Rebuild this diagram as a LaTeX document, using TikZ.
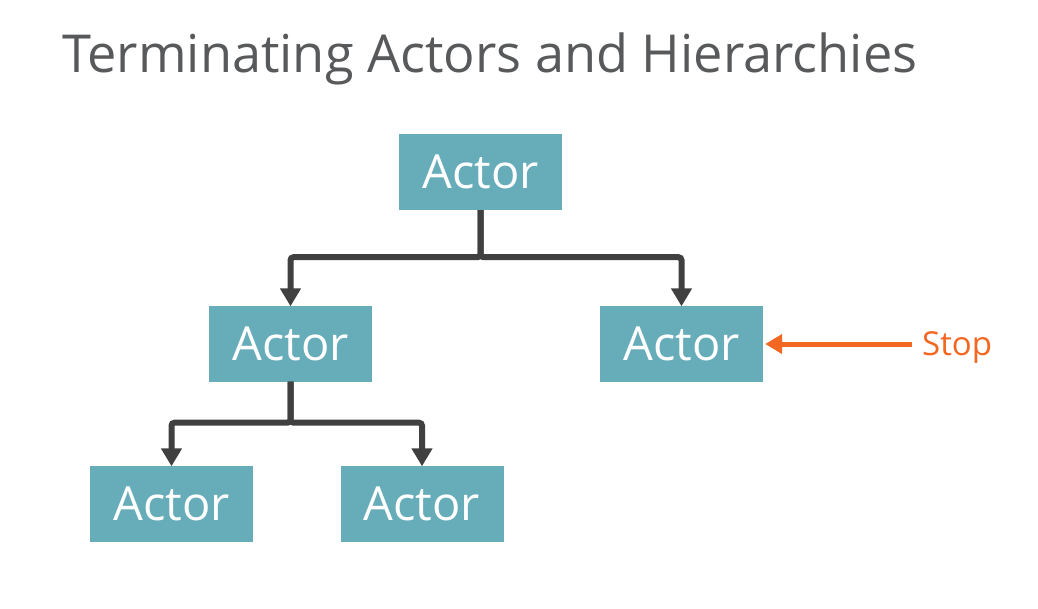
\documentclass[tikz,border=0pt]{standalone}
\usepackage{fontspec}
\setmainfont{Open Sans}
\usetikzlibrary{arrows.meta}
\definecolor{actorfill}{HTML}{67ADB9}
\definecolor{linkgray}{HTML}{404040}
\definecolor{titlegray}{HTML}{58595B}
\definecolor{stoporange}{HTML}{F26722}
\begin{document}
\begin{tikzpicture}[x=1pt,y=-1pt,
  actor/.style={fill=actorfill, minimum width=163pt, minimum height=76pt,
    inner sep=0pt, text=white, font=\fontsize{47}{52}\selectfont},
  link/.style={draw=linkgray, line width=6pt, rounded corners=3pt,
    -{Triangle[length=18pt,width=20pt]}},
  stoplink/.style={draw=stoporange, line width=5pt,
    -{Triangle[length=17pt,width=19pt]}}]
  \useasboundingbox (0,0) rectangle (1038,608);
  % title
  \node[anchor=base west, inner sep=0pt, text=titlegray,
        font=\fontsize{52.3}{58}\selectfont] (title) at (62,72)
        {Terminating Actors and Hierarchies};
  % actor hierarchy
  \node[actor] (top) at (480.5,172) {Actor};
  \node[actor] (ml) at (290.5,343.5) {Actor};
  \node[actor] (mr) at (681.5,343.5) {Actor};
  \node[actor] (bl) at (171.5,503.5) {Actor};
  \node[actor] (br) at (422,503.5) {Actor};
  \draw[link] (top.south) -- ++(0,47) -| ([yshift=-1pt]ml.north);
  \draw[link] (top.south) -- ++(0,47) -| ([yshift=-1pt]mr.north);
  \draw[link] (ml.south) -- ++(0,41) -| ([yshift=-1pt]bl.north);
  \draw[link] (ml.south) -- ++(0,41) -| ([yshift=-1pt]br.north);
  % stop signal
  \node[anchor=west, inner xsep=10pt, inner ysep=0pt, text=stoporange,
        text height=28pt, text depth=6pt,
        font=\fontsize{33}{36}\selectfont] (stop) at (912,344) {Stop};
  \draw[stoplink] (stop.west) -- ([xshift=2pt]stop.west -| mr.east);
\end{tikzpicture}
\end{document}
